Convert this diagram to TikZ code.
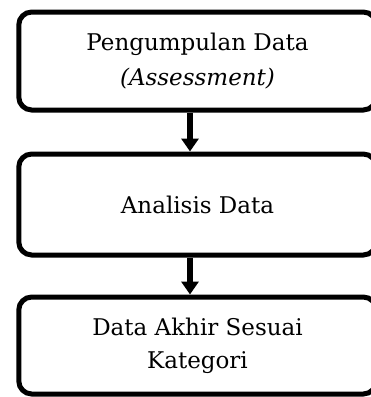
\documentclass[tikz,border=0pt]{standalone}
\usepackage{fontspec}
\setmainfont{DejaVu Serif}
\usetikzlibrary{arrows.meta}
\tikzset{
  stepbox/.style={draw=black, line width=5pt, rounded corners=13pt, fill=white,
    minimum width=357.5pt, align=center, font=\fontsize{23}{33}\selectfont, inner sep=0pt},
  arr/.style={line width=5.5pt, -{Triangle[width=17pt,length=13pt]}}
}
\begin{document}
\begin{tikzpicture}[x=1pt,y=-1pt]
\useasboundingbox (0,0) rectangle (371,397);
\node[stepbox, minimum height=98pt] (n1) at (197.5,61) {Pengumpulan Data\\[2pt]\textit{(Assessment)}};
\node[stepbox, minimum height=101pt] (n2) at (197.5,204.5) {Analisis Data};
\node[stepbox, minimum height=97pt] (n3) at (197.5,345.5) {Data Akhir Sesuai\\Kategori};
\coordinate (ax) at (190,0);
\draw[arr] (n1.south -| ax) -- (n2.north -| ax);
\draw[arr] (n2.south -| ax) -- (n3.north -| ax);
\end{tikzpicture}
\end{document}
